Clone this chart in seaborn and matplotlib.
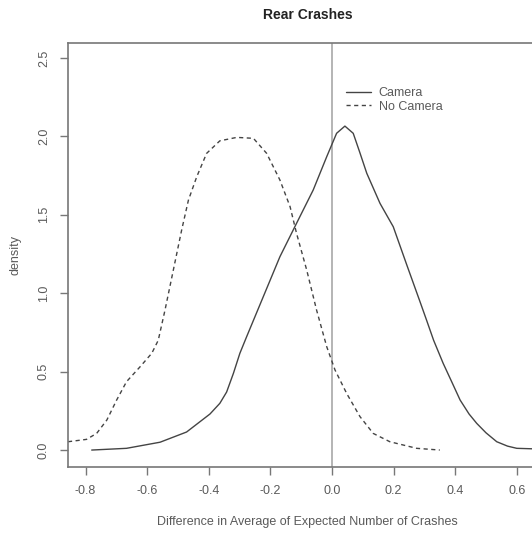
import numpy as np
import pandas as pd
import matplotlib
matplotlib.use("Agg")
import matplotlib.pyplot as plt
from matplotlib.lines import Line2D
import seaborn as sns

# values
camera_x = [-0.78, -0.667, -0.558, -0.472, -0.396, -0.364, -0.342, -0.32, -0.299,
            -0.277, -0.223, -0.169, -0.115, -0.061, -0.017, 0.015, 0.042, 0.069,
            0.09, 0.113, 0.156, 0.199, 0.243, 0.286, 0.307, 0.33, 0.361, 0.39,
            0.416, 0.445, 0.47, 0.5, 0.535, 0.57, 0.60, 0.70]
camera_y = [0.0, 0.011, 0.05, 0.115, 0.23, 0.298, 0.37, 0.489, 0.617,
            0.723, 0.978, 1.233, 1.446, 1.658, 1.871, 2.02, 2.066, 2.02,
            1.9, 1.765, 1.573, 1.424, 1.18, 0.945, 0.829, 0.70, 0.553, 0.43,
            0.319, 0.23, 0.17, 0.11, 0.053, 0.025, 0.011, 0.005]

nocam_x = [-0.857, -0.797, -0.764, -0.731, -0.699, -0.667, -0.623, -0.585, -0.564,
           -0.542, -0.515, -0.488, -0.466, -0.439, -0.407, -0.364, -0.309, -0.255,
           -0.212, -0.169, -0.136, -0.115, -0.082, -0.05, -0.017, 0.01, 0.048,
           0.091, 0.134, 0.188, 0.275, 0.35]
nocam_y = [0.053, 0.068, 0.106, 0.191, 0.319, 0.436, 0.531, 0.617, 0.70,
           0.893, 1.148, 1.403, 1.594, 1.743, 1.892, 1.972, 1.994, 1.988,
           1.892, 1.722, 1.552, 1.382, 1.148, 0.893, 0.659, 0.51, 0.36,
           0.213, 0.106, 0.053, 0.011, 0.0]

x_ticks = [-0.8, -0.6, -0.4, -0.2, 0.0, 0.2, 0.4, 0.6]
y_ticks = [0.0, 0.5, 1.0, 1.5, 2.0, 2.5]

df = pd.concat([
    pd.DataFrame({"x": camera_x, "y": camera_y, "group": "Camera"}),
    pd.DataFrame({"x": nocam_x, "y": nocam_y, "group": "No Camera"}),
])

sns.set_style("ticks")
plt.rcParams["font.family"] = ["Liberation Sans", "DejaVu Sans"]

fig = plt.figure(figsize=(5.32, 5.34), dpi=100)
ax = fig.add_axes([0.1278, 0.1255, 0.9015, 0.794])

grey = "#5a5a5a"
sns.lineplot(data=df, x="x", y="y", style="group", color="#444444",
             dashes={"Camera": "", "No Camera": (3, 2.5)},
             linewidth=1.0, sort=False, estimator=None, legend=False, ax=ax)

ax.axvline(0, color="#a8a8a8", linewidth=1.2, zorder=0)

ax.set_xlim(-0.857, 0.70)
ax.set_ylim(-0.108, 2.596)
ax.set_xticks(x_ticks)
ax.set_xticklabels([f"{v:.1f}" for v in x_ticks])
ax.set_yticks(y_ticks)
ax.set_yticklabels([f"{v:.1f}" for v in y_ticks], rotation=90, va="center")
ax.tick_params(direction="out", length=6, width=1, color="#777777",
               labelcolor=grey, labelsize=9, pad=7)
for side in ["left", "bottom", "top", "right"]:
    ax.spines[side].set_color("#777777")
    ax.spines[side].set_linewidth(1.2)

ax.set_xlabel("Difference in Average of Expected Number of Crashes",
              fontsize=9, color=grey, labelpad=14)
ax.set_ylabel("density", fontsize=9, color=grey, labelpad=12)
ax.set_title("Rear Crashes", fontsize=10, fontweight="bold", color="#222222", pad=17)

handles = [Line2D([], [], color="#444444", lw=1.0),
           Line2D([], [], color="#444444", lw=1.0, dashes=(3, 2.5))]
ax.legend(handles, ["Camera", "No Camera"], loc="upper left",
          bbox_to_anchor=(0.567, 0.91), frameon=False, fontsize=9,
          handlelength=2.0, handletextpad=0.6, labelspacing=0.1,
          borderpad=0, labelcolor=grey)

fig.savefig("out.png", dpi=100)
